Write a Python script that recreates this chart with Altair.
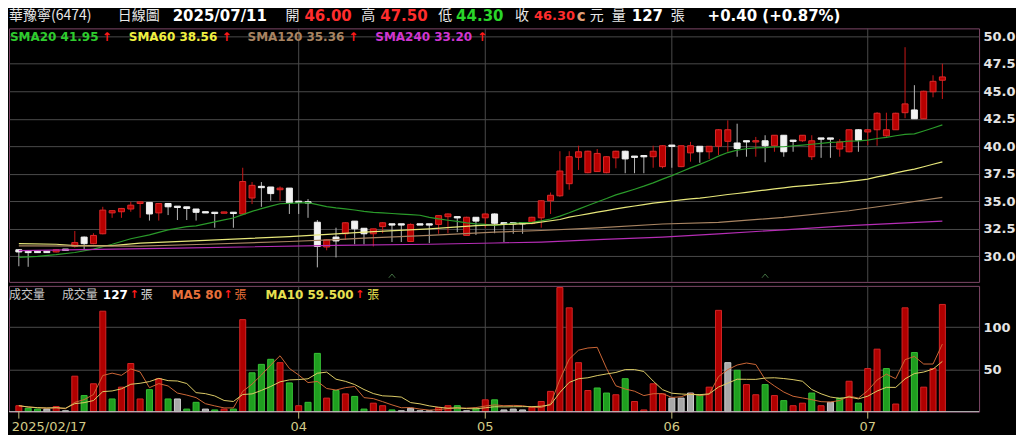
import altair as alt
import pandas as pd

# ---------------- data ----------------
opens = [30.60, 30.45, 30.40, 30.40, 30.40, 30.60, 30.90, 31.75, 31.15, 32.05,
         33.95, 34.05, 34.30, 34.80, 34.90, 33.95, 34.80, 34.50, 34.50, 34.30,
         34.00, 33.95, 33.95, 34.00, 33.85, 35.30, 36.30, 36.30, 36.05, 36.20,
         34.95, 34.90, 33.10, 30.85, 31.75, 32.05, 33.20, 32.55, 32.05, 32.70,
         32.90, 32.90, 31.35, 32.90, 32.90, 32.90, 33.60, 33.55, 31.90, 33.55,
         33.50, 33.85, 33.00, 33.00, 33.00, 33.00, 33.50, 35.05, 35.50, 36.60,
         39.00, 37.60, 37.70, 37.60, 38.95, 39.55, 39.05, 39.10, 39.05, 38.15,
         40.05, 38.15, 39.40, 40.00, 39.50, 40.00, 40.45, 40.30, 40.45, 40.40,
         40.50, 40.05, 41.00, 40.50, 40.50, 39.05, 40.70, 40.70, 39.75, 39.50,
         41.50, 41.30, 41.50, 40.95, 41.50, 43.05, 43.30, 42.50, 44.95, 46.00]
highs = [30.65, 30.50, 30.45, 30.45, 30.65, 30.65, 32.30, 31.80, 32.10, 34.50,
         34.20, 34.40, 34.95, 35.00, 34.90, 34.85, 34.85, 34.50, 34.50, 34.30,
         34.05, 33.95, 34.05, 34.00, 38.05, 36.75, 36.75, 36.30, 36.35, 36.20,
         34.95, 35.20, 33.30, 31.55, 32.60, 33.10, 33.20, 32.55, 32.50, 33.10,
         32.90, 32.90, 33.00, 32.95, 32.90, 33.70, 33.90, 33.55, 33.60, 33.55,
         33.90, 33.90, 33.00, 33.00, 33.00, 33.60, 35.10, 35.80, 39.55, 39.55,
         40.05, 39.60, 39.75, 39.10, 39.60, 39.60, 39.05, 39.10, 40.05, 40.10,
         40.05, 40.05, 40.40, 40.00, 40.00, 41.55, 42.35, 42.05, 40.45, 40.85,
         41.00, 41.00, 41.00, 40.50, 41.00, 41.00, 40.70, 40.70, 40.65, 41.50,
         41.55, 41.55, 43.10, 43.05, 43.05, 49.00, 45.55, 45.05, 46.45, 47.50]
lows = [29.10, 29.05, 30.35, 30.35, 30.35, 30.55, 30.80, 30.60, 31.10, 32.00,
        33.50, 33.50, 34.05, 33.50, 33.25, 33.25, 33.75, 33.30, 33.30, 33.25,
        33.95, 32.60, 33.95, 32.60, 33.80, 34.75, 34.50, 35.05, 35.05, 33.85,
        33.85, 33.50, 29.00, 30.55, 29.90, 31.50, 31.10, 31.10, 30.90, 32.10,
        31.30, 31.30, 31.30, 32.85, 31.20, 32.05, 32.10, 32.20, 31.90, 31.95,
        32.60, 32.10, 31.30, 32.05, 32.05, 32.90, 32.60, 33.85, 35.40, 36.05,
        37.85, 37.55, 37.70, 37.55, 38.00, 37.55, 37.55, 37.55, 38.05, 38.00,
        38.05, 38.10, 38.60, 38.50, 38.85, 39.20, 39.50, 39.05, 39.05, 39.05,
        38.55, 39.50, 39.05, 39.50, 40.40, 38.75, 38.95, 38.95, 39.05, 39.45,
        39.50, 40.10, 40.05, 40.85, 41.50, 42.55, 42.50, 42.50, 44.45, 44.30]
closes = [30.40, 30.35, 30.40, 30.40, 30.60, 30.60, 31.25, 31.15, 31.90, 34.20,
          34.15, 34.35, 34.65, 34.95, 33.85, 34.80, 34.50, 34.50, 34.35, 34.00,
          34.00, 33.95, 34.00, 33.90, 36.80, 36.45, 36.30, 35.70, 36.20, 34.85,
          34.95, 34.90, 30.90, 31.50, 31.40, 33.05, 32.50, 32.05, 32.50, 33.05,
          32.90, 32.90, 32.90, 32.90, 32.90, 33.70, 33.85, 33.55, 33.55, 33.20,
          33.85, 33.00, 33.00, 33.00, 33.00, 33.55, 35.05, 35.55, 37.75, 39.05,
          39.50, 39.55, 39.35, 39.05, 39.55, 38.85, 39.05, 39.10, 39.55, 40.05,
          40.05, 40.05, 40.05, 39.50, 40.00, 41.50, 41.50, 39.80, 40.45, 40.50,
          40.05, 41.00, 39.50, 40.50, 41.00, 40.50, 40.70, 40.70, 40.40, 41.50,
          40.55, 41.50, 43.00, 41.50, 43.00, 43.85, 42.50, 45.00, 45.90, 46.30]
volumes = [7, 4, 3, 3, 6, 1, 42, 19, 33, 119,
           15, 29, 57, 15, 26, 39, 15, 15, 3, 11,
           3, 2, 3, 3, 109, 46, 56, 62, 58, 34,
           7, 11, 69, 16, 25, 21, 18, 3, 10, 7,
           2, 1, 4, 1, 1, 5, 7, 7, 1, 4,
           14, 14, 2, 3, 2, 5, 12, 24, 147, 123,
           58, 25, 28, 22, 20, 39, 12, 2, 33, 21,
           16, 16, 22, 20, 29, 120, 58, 49, 32, 20,
           32, 19, 13, 7, 10, 22, 7, 11, 16, 36,
           10, 51, 74, 51, 9, 123, 70, 29, 51, 127]
# r = up day, g = down day, n = unchanged
vol_dir = ["r", "g", "g", "n", "r", "n", "r", "g", "r", "r",
           "g", "r", "r", "r", "g", "r", "g", "n", "g", "g",
           "n", "g", "r", "g", "r", "g", "g", "g", "r", "g",
           "r", "g", "g", "r", "g", "r", "g", "g", "r", "r",
           "g", "n", "n", "n", "n", "r", "r", "g", "n", "g",
           "r", "g", "n", "n", "n", "r", "r", "r", "r", "r",
           "r", "r", "g", "g", "r", "g", "r", "r", "r", "r",
           "n", "n", "n", "g", "r", "r", "n", "g", "r", "r",
           "g", "r", "g", "r", "r", "g", "r", "n", "g", "r",
           "g", "r", "r", "g", "r", "r", "g", "r", "r", "r"]

month_idx = [0, 30, 50, 70, 91]
month_labels = ["2025/02/17", "04", "05", "06", "07"]
event_idx = [40, 80]

# moving averages before enough history exists on the chart
sma20_early_idx = [0, 2, 4, 6, 8, 10, 12, 14, 16, 18]
sma20_early_val = [29.90, 30.00, 30.15, 30.35, 30.65, 31.10, 31.60, 31.95, 32.40, 32.70]
sma60_early_idx = [0, 4, 6, 10, 13, 20, 29, 34, 37, 44, 49, 55, 58]
sma60_early_val = [31.15, 31.10, 30.97, 30.97, 31.20, 31.45, 31.80, 32.05, 32.20, 32.50, 32.79, 33.00, 33.35]
sma120_idx = [0, 13, 20, 29, 34, 37, 44, 51, 56, 62, 69, 75, 82, 89, 94, 99]
sma120_val = [30.95, 30.92, 31.10, 31.35, 31.51, 31.66, 31.90, 32.20, 32.35, 32.58, 32.94, 33.09, 33.54, 34.14, 34.73, 35.36]
sma240_idx = [0, 17, 34, 44, 51, 56, 62, 69, 75, 82, 89, 94, 99]
sma240_val = [30.52, 30.75, 31.00, 31.10, 31.21, 31.30, 31.51, 31.75, 32.05, 32.41, 32.79, 33.00, 33.20]

# ---------------- tables ----------------
n = len(closes)
df = pd.DataFrame({"i": list(range(n)), "o": opens, "h": highs, "l": lows,
                   "c": closes, "v": volumes, "d": vol_dir})

cser = pd.Series(closes, dtype=float)
sma20_calc = cser.rolling(20).mean()
sma60_calc = cser.rolling(60).mean()
vser = pd.Series(volumes, dtype=float)
ma5 = vser.rolling(5, min_periods=1).mean()
ma10 = vser.rolling(10, min_periods=1).mean()

rows = []
rows += [("SMA20", i, v) for i, v in zip(sma20_early_idx, sma20_early_val)]
rows += [("SMA20", i, float(sma20_calc[i])) for i in range(19, n)]
rows += [("SMA60", i, v) for i, v in zip(sma60_early_idx, sma60_early_val)]
rows += [("SMA60", i, float(sma60_calc[i])) for i in range(59, n)]
rows += [("SMA120", i, v) for i, v in zip(sma120_idx, sma120_val)]
rows += [("SMA240", i, v) for i, v in zip(sma240_idx, sma240_val)]
lines_df = pd.DataFrame(rows, columns=["s", "i", "val"])

vrows = [("MA5", i, float(ma5[i])) for i in range(n)] + [("MA10", i, float(ma10[i])) for i in range(n)]
vma_df = pd.DataFrame(vrows, columns=["s", "i", "val"])

months_df = pd.DataFrame({"i": month_idx, "t": month_labels})

# ---------------- layout ----------------
W = 972
H1 = 254
H2 = 126
GRID = "#4a4a4a"
CJK = "Noto Sans CJK TC"
LAT = "DejaVu Sans"

xs = alt.Scale(domain=[-0.52, 102.4], nice=False, zero=False)
X = alt.X("i:Q", scale=xs, axis=None)
ps = alt.Scale(domain=[27.68, 50.71], nice=False, zero=False)
vsc = alt.Scale(domain=[0, 149], nice=False, zero=False)

LBL = dict(labelFont=LAT, labelFontWeight="bold", labelFontSize=13,
           labelColor="#e4e4e4", labelPadding=4)
p_axis = alt.Axis(orient="right", values=[30, 32.5, 35, 37.5, 40, 42.5, 45, 47.5, 50],
                  format=".1f", grid=True, gridColor=GRID, gridWidth=1,
                  domain=False, ticks=False, title=None, **LBL)
v_axis = alt.Axis(orient="right", values=[50, 100], format="d", grid=True,
                  gridColor=GRID, gridWidth=1, domain=False, ticks=False,
                  title=None, **LBL)


def txt(s, x, y, color, size=12, bold=True, font=LAT):
    return alt.Chart(pd.DataFrame({"t": [s]})).mark_text(
        align="left", baseline="middle", font=font, fontSize=size,
        fontWeight="bold" if bold else "normal", color=color
    ).encode(x=alt.value(x), y=alt.value(y), text="t:N")


RED = "#ff2d2d"
ARW = "#ff1a1a"
WHT = "#e8e8e8"

# ---------------- price panel ----------------
mrule_p = alt.Chart(months_df[months_df.i > 0]).mark_rule(color=GRID, strokeWidth=1).encode(x=X)

wick = alt.Chart(df).transform_calculate(
    wc="datum.c > datum.o ? '#c81818' : '#b8b8b8'"
).mark_rule(strokeWidth=1).encode(
    x=X, y=alt.Y("l:Q", scale=ps, axis=p_axis), y2="h:Q",
    stroke=alt.Stroke("wc:N", scale=None))

body = alt.Chart(df).transform_calculate(
    top="max(datum.o, datum.c)", bot="min(datum.o, datum.c)"
).transform_calculate(
    y1="datum.top - datum.bot < 0.12 ? (datum.top + datum.bot) / 2 + 0.06 : datum.top",
    y0="datum.top - datum.bot < 0.12 ? (datum.top + datum.bot) / 2 - 0.06 : datum.bot",
    fc="datum.c > datum.o ? '#b80000' : '#f2f2f2'",
    sc="datum.c > datum.o ? '#dc2a2a' : '#f2f2f2'",
).mark_bar(size=6, strokeWidth=1).encode(
    x=X, y=alt.Y("y1:Q", scale=ps, axis=p_axis), y2="y0:Q",
    fill=alt.Fill("fc:N", scale=None), stroke=alt.Stroke("sc:N", scale=None))

sma_lines = alt.Chart(lines_df).transform_calculate(
    lc="datum.s == 'SMA20' ? '#2a9a2a' : (datum.s == 'SMA60' ? '#e6e67a' : "
       "(datum.s == 'SMA120' ? '#a88462' : '#b52db5'))"
).mark_line(strokeWidth=1.2).encode(
    x=X, y=alt.Y("val:Q", scale=ps, axis=p_axis),
    stroke=alt.Stroke("lc:N", scale=None),
    detail="s:N")

events = alt.Chart(pd.DataFrame({"i": event_idx})).mark_point(
    shape="M-1,0.6L0,-0.6L1,0.6", filled=False, size=40, strokeWidth=1, color="#5fa05f"
).encode(x=X, y=alt.value(H1 - 6))

hy = -12
header = [
    txt("華豫寧(6474)", 0, hy, WHT, 14, False, CJK),
    txt("日線圖", 109, hy, WHT, 14, False, CJK),
    txt("2025/07/11", 164, hy, "#ffffff", 15),
    txt("開", 277, hy, WHT, 14, False, CJK),
    txt("46.00", 296, hy, RED, 15),
    txt("高", 353, hy, WHT, 14, False, CJK),
    txt("47.50", 372, hy, RED, 15),
    txt("低", 430, hy, WHT, 14, False, CJK),
    txt("44.30", 448, hy, "#2ad42a", 15),
    txt("收", 507, hy, WHT, 14, False, CJK),
    txt("46.30", 526, hy, RED, 13),
    txt("c", 569, hy, "#e0a07a", 15),
    txt("元", 582, hy, WHT, 14, False, CJK),
    txt("量", 604, hy, WHT, 14, False, CJK),
    txt("127", 624, hy, "#ffffff", 15),
    txt("張", 663, hy, WHT, 14, False, CJK),
    txt("+0.40 (+0.87%)", 700, hy, "#ffffff", 15),
]
ly = 9
sma_legend = [
    txt("SMA20 41.95", 1, ly, "#2ecc2e"), txt("↑", 93, ly, ARW),
    txt("SMA60 38.56", 120, ly, "#f0f040"), txt("↑", 213, ly, ARW),
    txt("SMA120 35.36", 239, ly, "#a88462"), txt("↑", 340, ly, ARW),
    txt("SMA240 33.20", 367, ly, "#d035d0"), txt("↑", 469, ly, ARW),
]

top = alt.layer(mrule_p, wick, body, sma_lines, events, *header, *sma_legend).properties(
    width=W, height=H1)

# ---------------- volume panel ----------------
mrule_v = alt.Chart(months_df[months_df.i > 0]).mark_rule(color=GRID, strokeWidth=1).encode(x=X)

vbars = alt.Chart(df).transform_calculate(
    fc="datum.d == 'r' ? '#b00000' : (datum.d == 'g' ? '#1f9e1f' : '#a8a8a8')",
    sc="datum.d == 'r' ? '#d42424' : (datum.d == 'g' ? '#36c236' : '#cfcfcf')",
).mark_bar(size=6, strokeWidth=1).encode(
    x=X, y=alt.Y("v:Q", scale=vsc, axis=v_axis),
    fill=alt.Fill("fc:N", scale=None), stroke=alt.Stroke("sc:N", scale=None))

baseline = alt.Chart(pd.DataFrame({"v": [0]})).mark_rule(color="#bdbdbd", strokeWidth=1).encode(
    y=alt.Y("v:Q", scale=vsc, axis=v_axis))

vma = alt.Chart(vma_df).transform_calculate(
    lc="datum.s == 'MA5' ? '#cc6636' : '#dccb66'"
).mark_line(strokeWidth=1).encode(
    x=X, y=alt.Y("val:Q", scale=vsc, axis=v_axis),
    stroke=alt.Stroke("lc:N", scale=None),
    detail="s:N")

ticks = alt.Chart(months_df).mark_rule(color="#c8c080", strokeWidth=1).encode(
    x=X, y=alt.value(H2), y2=alt.value(H2 + 7))

first_lbl = alt.Chart(months_df[months_df.i == 0]).mark_text(
    align="left", baseline="middle", dx=-7, font=LAT, fontSize=13, color="#d4cc88"
).encode(x=X, y=alt.value(H2 + 15), text="t:N")
other_lbl = alt.Chart(months_df[months_df.i > 0]).mark_text(
    align="center", baseline="middle", font=LAT, fontSize=13, color="#d4cc88"
).encode(x=X, y=alt.value(H2 + 15), text="t:N")

vol_legend = [
    txt("成交量", 0, ly, "#c8c8c8", 12, False, CJK),
    txt("成交量", 53, ly, "#c8c8c8", 12, False, CJK),
    txt("127", 94, ly, "#ffffff"), txt("↑", 121, ly, ARW, 11),
    txt("張", 132, ly, "#d8d8d8", 12, False, CJK),
    txt("MA5 80", 163, ly, "#e8703a"), txt("↑", 215, ly, ARW, 11),
    txt("張", 226, ly, "#e8703a", 12, False, CJK),
    txt("MA10 59.500", 257, ly, "#e8e050"), txt("↑", 347, ly, ARW, 11),
    txt("張", 359, ly, "#e8e050", 12, False, CJK),
]

bottom = alt.layer(mrule_v, vbars, baseline, vma, ticks, first_lbl, other_lbl, *vol_legend).properties(
    width=W, height=H2)

chart = alt.vconcat(top, bottom, spacing=2).properties(
    padding={"left": 0, "right": 0, "top": 0, "bottom": 0}
).configure(background="#000000").configure_view(stroke="#7d4767", strokeWidth=1)

chart.save("out.html", embed_options={"renderer": "svg", "actions": False})
